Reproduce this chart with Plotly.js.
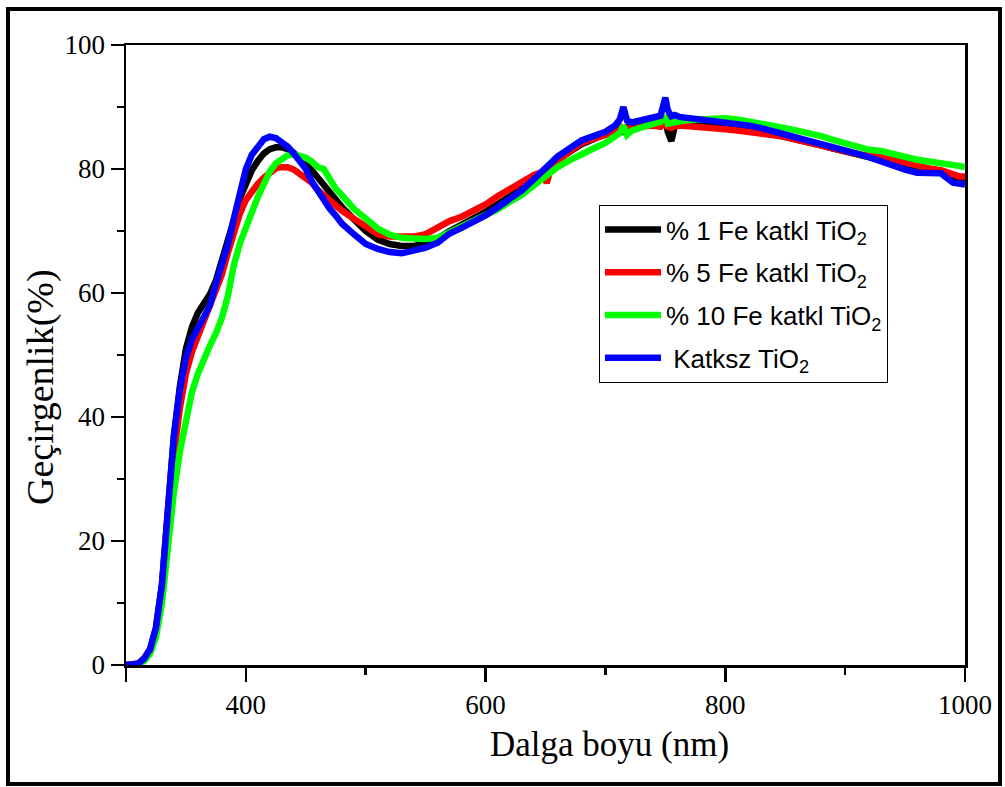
<!DOCTYPE html>
<html>
<head>
<meta charset="utf-8">
<script src="https://cdn.plot.ly/plotly-3.0.1.min.js"></script>
<style>
  html, body { margin: 0; padding: 0; background: #ffffff; }
  #chart { width: 1005px; height: 787px; }
</style>
</head>
<body>
<div id="chart"></div>
<script>
// Wavelength (nm)
const wavelength = [300, 305, 310, 315, 320, 325, 330, 335, 340, 345, 350, 355, 360, 365, 370, 375, 380, 385, 390, 395,
  400, 405, 410, 415, 420, 425, 430, 435, 440, 445, 450, 455, 460, 465, 470, 475, 480, 490, 500, 510,
  520, 530, 540, 550, 560, 570, 580, 590, 600, 610, 620, 630, 640, 648, 651, 654, 660, 670, 680, 690,
  700, 708, 712, 715, 718, 722, 730, 740, 746, 750, 752, 755, 758, 762, 770, 780, 790, 800, 810, 820,
  830, 840, 850, 860, 870, 880, 890, 900, 910, 920, 930, 940, 950, 960, 970, 980, 990, 995, 1000];

// Transmittance (%) — % 1 Fe katkl TiO2
const fe1 = [0, 0, 0.2, 1, 2.5, 6, 13, 25, 37, 45, 51, 54.5, 56.8, 58.3, 59.8, 62, 65, 68.3, 71.8, 75.3,
  77.8, 79.8, 81.3, 82.5, 83.2, 83.5, 83.5, 83.2, 82.6, 81.8, 80.9, 79.8, 78.6, 77.5, 76.2, 75, 73.9, 71.9, 70, 68.6,
  67.9, 67.6, 67.6, 68, 68.8, 70, 71, 72, 73.1, 74.3, 75.5, 76.8, 78.3, 79.5, 79.8, 80.3, 81.5, 82.8, 84, 84.8,
  85.5, 86.3, 86.8, 85.7, 86.8, 87, 87.2, 87.5, 87.6, 88, 86, 84.5, 87, 87.2, 87.2, 87.1, 87, 86.8, 86.6, 86.3,
  86, 85.6, 85.2, 84.8, 84.3, 83.8, 83.3, 82.8, 82.3, 81.8, 81.5, 81, 80.5, 80.1, 79.8, 79.6, 78.6, 78.5, 78.5];

// % 5 Fe katkl TiO2
const fe5 = [0, 0, 0.2, 1, 2.4, 5.5, 12, 23, 34, 41.5, 47, 50.5, 53, 55.5, 58, 60.5, 63, 66.5, 70, 72.8,
  75, 76.5, 77.6, 78.6, 79.5, 80.1, 80.3, 80.3, 79.9, 79.3, 78.6, 77.8, 76.6, 75.7, 74.8, 74, 73.3, 72, 70.6, 69.5,
  69.1, 69, 69.1, 69.5, 70.5, 71.6, 72.3, 73.3, 74.3, 75.6, 76.8, 78, 79, 79.6, 77.7, 79.8, 81.3, 82.8, 84.2, 84.9,
  85.5, 86.3, 86.8, 86.6, 86.4, 86.7, 86.8, 87, 86.8, 87.6, 86.8, 86.6, 86.9, 87, 86.9, 86.8, 86.6, 86.4, 86.2, 86,
  85.8, 85.5, 85.2, 84.7, 84.2, 83.7, 83.2, 82.8, 82.4, 82.2, 82, 81.5, 81, 80.5, 80.1, 79.8, 79, 78.8, 78.8];

// % 10 Fe katkl TiO2
const fe10 = [0, 0, 0.1, 0.6, 1.8, 4.5, 10, 19, 28, 34.5, 40, 44, 47, 49.5, 51.5, 53.5, 56, 59.5, 64.5, 68,
  70.8, 73, 75.5, 77.8, 79.6, 80.9, 81.7, 82.2, 82.4, 82.2, 81.8, 81.2, 80.3, 80, 78.2, 76.8, 75.8, 73.6, 72, 70.4,
  69.4, 68.9, 68.8, 68.7, 68.9, 69.8, 70.6, 71.5, 72.4, 73.5, 74.7, 75.8, 77.3, 78.5, 79, 79.3, 80.3, 81.4, 82.5, 83.3,
  84.2, 85.2, 85.8, 87, 85.5, 86.2, 86.8, 87.3, 87.6, 88.6, 87.3, 87.5, 87.6, 87.7, 87.9, 88, 88.2, 88.2, 88, 87.7,
  87.4, 87, 86.6, 86.2, 85.8, 85.3, 84.7, 84.2, 83.6, 83.1, 82.9, 82.4, 82, 81.5, 81.2, 81, 80.7, 80.5, 80.3];

// Katksz TiO2
const undoped = [0, 0, 0.2, 1, 2.5, 6, 13, 25, 37, 44.5, 49.5, 52.5, 54.5, 56.3, 58, 61.5, 64.5, 67.8, 72, 76.5,
  80, 82.3, 83.7, 84.8, 85.2, 85, 84.3, 83.6, 82.5, 81.3, 80, 78, 76.5, 75.2, 73.6, 72.5, 71.2, 69.5, 67.9, 67.1,
  66.6, 66.4, 66.8, 67.3, 68.1, 69.6, 70.5, 71.5, 72.5, 73.8, 75.2, 76.5, 78.3, 79.8, 80.3, 80.6, 82, 83.3, 84.6, 85.3,
  86, 87, 88, 90, 87.8, 87.5, 87.9, 88.4, 88.6, 91.5, 89.5, 88.5, 88.7, 88.4, 88.2, 88, 87.9, 87.6, 87.4, 87,
  86.6, 86.1, 85.6, 85.2, 84.7, 84.2, 83.6, 83.1, 82.5, 81.9, 81.2, 80.6, 79.9, 79.4, 79.3, 79.3, 77.8, 77.6, 77.5];

const seriesNames = ['% 1 Fe katkl TiO<sub>2</sub>', '% 5 Fe katkl TiO<sub>2</sub>', '% 10 Fe katkl TiO<sub>2</sub>', '\u00a0Katksz TiO<sub>2</sub>'];
const seriesColors = ['#000000', '#ff0000', '#00ff00', '#0000ff'];
const seriesValues = [fe1, fe5, fe10, undoped];

const xTickVals = [300, 400, 600, 800, 1000];
const xTickText = ['', '400', '600', '800', '1000'];
const yTickVals = [0, 20, 40, 60, 80, 100];

const serif = 'Liberation Serif, Times New Roman, serif';
const sans = 'Liberation Sans, Arial, sans-serif';

const traces = seriesValues.map((vals, i) => ({
  type: 'scatter',
  mode: 'lines',
  x: wavelength,
  y: vals,
  name: seriesNames[i],
  legendgroup: 'g' + i,
  line: { color: seriesColors[i], width: 6.5 }
}));

const W = 1005, H = 787, ML = 126, MR = 40, MT = 45, MB = 122;
const PW = W - ML - MR, PH = H - MT - MB;
const px = v => (v - ML) / PW;
const py = v => (H - MB - v) / PH;

const layout = {
  width: W, height: H,
  margin: { l: ML, r: MR, t: MT, b: MB, pad: 0 },
  paper_bgcolor: '#ffffff',
  plot_bgcolor: '#ffffff',
  showlegend: true,
  legend: {
    x: px(599), y: py(205), xanchor: 'left', yanchor: 'top',
    bgcolor: '#ffffff', bordercolor: '#000000', borderwidth: 1,
    font: { family: sans, size: 26, color: '#000000' },
    tracegroupgap: 6,
    itemwidth: 56
  },
  xaxis: {
    range: [300, 1000],
    tickmode: 'array', tickvals: xTickVals, ticktext: xTickText,
    ticks: 'outside', ticklen: 14, tickwidth: 2.5, tickcolor: '#000000',
    minor: { dtick: 100, tick0: 300, ticks: 'outside', ticklen: 7, tickwidth: 2.5, tickcolor: '#000000' },
    showline: true, linecolor: '#000000', linewidth: 2.5, mirror: true,
    showgrid: false, zeroline: false,
    tickfont: { family: serif, size: 27, color: '#000000' }
  },
  yaxis: {
    range: [0, 100],
    tickmode: 'array', tickvals: yTickVals,
    ticks: 'outside', ticklen: 13, tickwidth: 2.5, tickcolor: '#000000',
    minor: { dtick: 10, tick0: 0, ticks: 'outside', ticklen: 7, tickwidth: 2.5, tickcolor: '#000000' },
    showline: true, linecolor: '#000000', linewidth: 2.5, mirror: true,
    showgrid: false, zeroline: false,
    tickfont: { family: serif, size: 27, color: '#000000' }
  },
  annotations: [
    { text: 'Dalga boyu (nm)', xref: 'paper', yref: 'paper', x: px(609), y: py(745),
      xanchor: 'center', yanchor: 'middle', showarrow: false,
      font: { family: serif, size: 35, color: '#000000' } },
    { text: 'Geçirgenlik(%)', xref: 'paper', yref: 'paper', x: px(40), y: py(387),
      xanchor: 'center', yanchor: 'middle', showarrow: false, textangle: -90,
      font: { family: serif, size: 38, color: '#000000' } }
  ],
  shapes: [
    { type: 'rect', xref: 'paper', yref: 'paper', x0: px(8), x1: px(1000), y0: py(784), y1: py(9),
      line: { color: '#000000', width: 4 }, fillcolor: 'rgba(0,0,0,0)', layer: 'above' }
  ]
};

Plotly.newPlot('chart', traces, layout, { displayModeBar: false, staticPlot: true });
</script>
</body>
</html>
